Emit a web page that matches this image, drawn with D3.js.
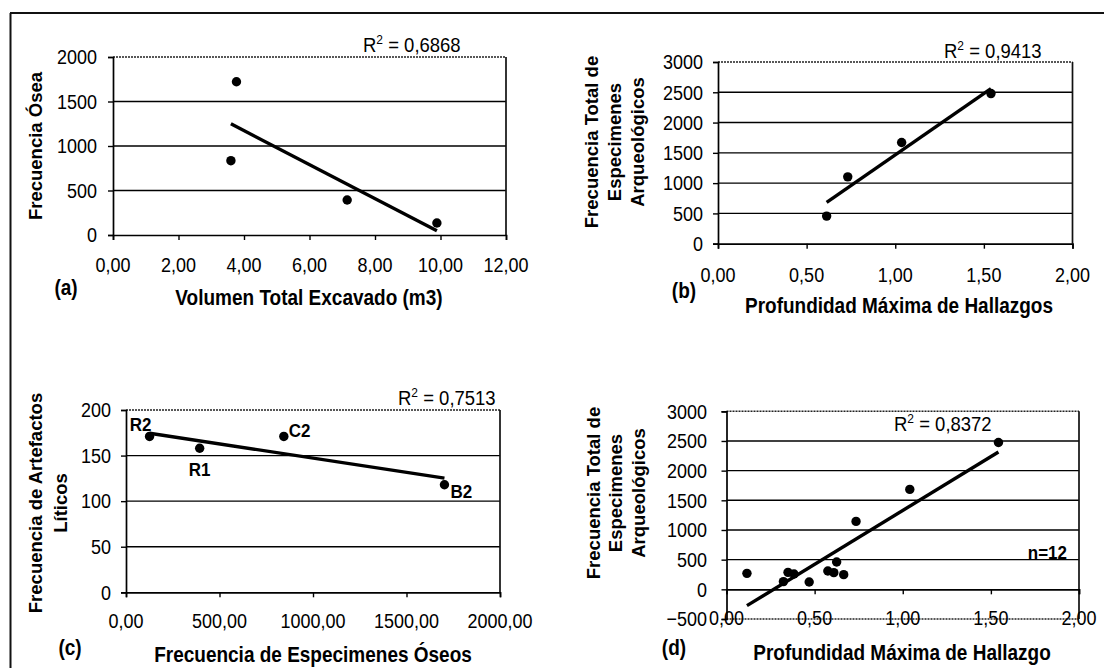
<!DOCTYPE html>
<html>
<head>
<meta charset="utf-8">
<script src="https://cdn.jsdelivr.net/npm/d3@7"></script>
<style>
  html, body { margin: 0; padding: 0; background: #fff; }
  svg { display: block; font-family: "Liberation Sans", Arial, sans-serif; }
</style>
</head>
<body>
<svg id="chart" width="1104" height="668"></svg>
<script>
// (a) Volumen total excavado vs frecuencia osea
const volumenA = [3.60, 3.77, 7.15, 9.89];
const oseaA = [835, 1722, 393, 135];
const xTicksA = [0, 2, 4, 6, 8, 10, 12];
const yTicksA = [0, 500, 1000, 1500, 2000];

// (b) Profundidad maxima vs total especimenes
const profB = [0.613, 0.732, 1.036, 1.540];
const totalB = [456, 1104, 1671, 2479];
const xTicksB = [0, 0.5, 1, 1.5, 2];
const yTicksB = [0, 500, 1000, 1500, 2000, 2500, 3000];

// (c) Especimenes oseos vs artefactos liticos
const sitiosC = ["R2", "R1", "C2", "B2"];
const oseosC = [126, 394, 844, 1703];
const liticosC = [171, 158, 171, 118];
const xTicksC = [0, 500, 1000, 1500, 2000];
const yTicksC = [0, 50, 100, 150, 200];

// (d) Profundidad maxima vs total especimenes, n=12
const profD = [0.116, 0.323, 0.349, 0.383, 0.469, 0.575, 0.609, 0.625, 0.665, 0.735, 1.040, 1.543];
const totalD = [269, 130, 286, 258, 123, 308, 281, 460, 247, 1145, 1684, 2475];
const xTicksD = [0, 0.5, 1, 1.5, 2];
const yTicksD = [-500, 0, 500, 1000, 1500, 2000, 2500, 3000];

const r2Values = ["0,6868", "0,9413", "0,7513", "0,8372"];

const svg = d3.select("#chart");
const FS = 18;      // tick labels
const TFS = 19;     // bold titles
const STRETCH = 1.12; // scanned text looks a bit taller than wide

// outer frame
svg.append("line").attr("x1", 10).attr("x2", 1104).attr("y1", 13).attr("y2", 13)
  .attr("stroke", "#111").attr("stroke-width", 2);
svg.append("line").attr("x1", 10.5).attr("x2", 10.5).attr("y1", 13).attr("y2", 668)
  .attr("stroke", "#111").attr("stroke-width", 2);

const fmtDec = v => d3.format(".2f")(v).replace(".", ",");
const fmtInt = v => d3.format("d")(v);

function fit(xs, ys) {
  const mx = d3.mean(xs), my = d3.mean(ys);
  let sxy = 0, sxx = 0;
  xs.forEach((x, i) => { sxy += (x - mx) * (ys[i] - my); sxx += (x - mx) * (x - mx); });
  const b = sxy / sxx;
  return x => my + b * (x - mx);
}

// horizontal text, centred vertically on y, slightly stretched
function label(g, x, y, txt, size, anchor, bold) {
  return g.append("text")
    .attr("transform", `translate(${x},${y}) scale(1,${STRETCH})`)
    .attr("dy", "0.36em")
    .attr("text-anchor", anchor)
    .attr("font-size", size)
    .attr("font-weight", bold ? "bold" : "normal")
    .text(txt);
}

function drawPanel(p) {
  const x = d3.scaleLinear().domain(p.xDomain).range([p.left, p.right]);
  const y = d3.scaleLinear().domain(p.yDomain).range([p.bottom, p.top]);
  const g = svg.append("g");
  const axisY = y(p.axisAt);

  // gridlines
  g.selectAll(".grid").data(p.yTicks.filter(t => t !== p.axisAt && t !== p.yDomain[0] && t !== p.yDomain[1]))
    .enter().append("line")
    .attr("x1", p.left).attr("x2", p.right)
    .attr("y1", d => y(d)).attr("y2", d => y(d))
    .attr("stroke", "#000").attr("stroke-width", 1.4);

  // plot border: top and bottom dotted, right solid
  g.append("line").attr("x1", p.left).attr("x2", p.right).attr("y1", p.top).attr("y2", p.top)
    .attr("stroke", "#222").attr("stroke-width", 1.4).attr("stroke-dasharray", "2,1");
  if (p.axisAt !== p.yDomain[0]) {
    g.append("line").attr("x1", p.left).attr("x2", p.right).attr("y1", p.bottom).attr("y2", p.bottom)
      .attr("stroke", "#222").attr("stroke-width", 1.4).attr("stroke-dasharray", "2,1");
  }
  g.append("line").attr("x1", p.right).attr("x2", p.right).attr("y1", p.top).attr("y2", p.bottom)
    .attr("stroke", "#111").attr("stroke-width", 1.7);

  // y axis with ticks
  const yAxis = d3.axisLeft(y).tickValues(p.yTicks).tickSize(5).tickFormat("");
  const ya = g.append("g").attr("transform", `translate(${p.left},0)`).call(yAxis);
  ya.select(".domain").attr("stroke", "#000").attr("stroke-width", 1.7);
  ya.selectAll(".tick line").attr("stroke", "#000").attr("stroke-width", 1.4);

  // x axis with ticks
  const xAxis = d3.axisBottom(x).tickValues(p.xTicks).tickSize(5).tickFormat("");
  const xa = g.append("g").attr("transform", `translate(0,${axisY})`).call(xAxis);
  xa.select(".domain").attr("stroke", "#000").attr("stroke-width", 1.7);
  xa.selectAll(".tick line").attr("stroke", "#000").attr("stroke-width", 1.4);

  // tick labels
  p.yTicks.forEach(t => label(g, p.yLabelRight, y(t), fmtInt(t), FS, "end", false));
  p.xTicks.forEach(t => label(g, x(t), p.xLabelY, fmtDec(t), FS, "middle", false));

  // trend line
  const f = fit(p.xs, p.ys);
  const x0 = d3.min(p.xs), x1 = d3.max(p.xs);
  g.append("line")
    .attr("x1", x(x0)).attr("y1", y(f(x0)))
    .attr("x2", x(x1)).attr("y2", y(f(x1)))
    .attr("stroke", "#000").attr("stroke-width", 3.4);

  // points
  g.selectAll(".pt").data(p.xs.map((v, i) => [v, p.ys[i]])).enter().append("circle")
    .attr("cx", d => x(d[0])).attr("cy", d => y(d[1])).attr("r", 4.7).attr("fill", "#000");

  // point labels
  if (p.labels) {
    p.labels.forEach((lab, i) => {
      const o = p.labelOffsets[i];
      label(g, x(p.xs[i]) + o[0], y(p.ys[i]) + o[1], lab, 17, o[2], true);
    });
  }

  // R squared
  const r2 = g.append("text")
    .attr("transform", `translate(${p.r2x},${p.r2y}) scale(1,${STRETCH})`)
    .attr("font-size", FS + 0.5);
  r2.append("tspan").text("R");
  r2.append("tspan").attr("dy", -7).attr("font-size", 12).text("2");
  r2.append("tspan").attr("dy", 7).text(" = " + p.r2);

  // y title (rotated, possibly multi-line)
  p.yTitle.forEach((line, i) => {
    g.append("text")
      .attr("transform", `translate(${p.yTitleX[i]},${p.yTitleY}) rotate(-90)`)
      .attr("dy", "0.36em").attr("text-anchor", "middle")
      .attr("font-size", FS + 0.5).attr("font-weight", "bold").text(line);
  });

  // x title
  label(g, p.xTitleX, p.xTitleY, p.xTitle, TFS, "middle", true);

  // panel letter
  label(g, p.letterX, p.letterY, p.letter, TFS, "middle", true);

  if (p.note) label(g, p.note.x, p.note.y, p.note.text, 17, "end", true);
}

drawPanel({
  xs: volumenA, ys: oseaA, xTicks: xTicksA, yTicks: yTicksA,
  xDomain: [0, 12], yDomain: [0, 2000], axisAt: 0,
  left: 113, right: 506, top: 57, bottom: 235,
  yLabelRight: 97, xLabelY: 265,
  r2: r2Values[0], r2x: 363, r2y: 51.5,
  yTitle: ["Frecuencia Ósea"], yTitleX: [35], yTitleY: 146,
  xTitle: "Volumen Total Excavado (m3)", xTitleX: 309, xTitleY: 297,
  letter: "(a)", letterX: 66, letterY: 287
});

drawPanel({
  xs: profB, ys: totalB, xTicks: xTicksB, yTicks: yTicksB,
  xDomain: [0, 2], yDomain: [0, 3000], axisAt: 0,
  left: 718, right: 1072.5, top: 62, bottom: 243.7,
  yLabelRight: 703, xLabelY: 275,
  r2: r2Values[1], r2x: 944, r2y: 58,
  yTitle: ["Frecuencia Total de", "Especimenes", "Arqueológicos"], yTitleX: [591, 614, 637], yTitleY: 142,
  xTitle: "Profundidad Máxima de Hallazgos", xTitleX: 899, xTitleY: 305,
  letter: "(b)", letterX: 684, letterY: 290
});

drawPanel({
  xs: oseosC, ys: liticosC, xTicks: xTicksC, yTicks: yTicksC,
  xDomain: [0, 2000], yDomain: [0, 200], axisAt: 0,
  left: 126, right: 500, top: 410, bottom: 592.3,
  yLabelRight: 111, xLabelY: 621,
  r2: r2Values[2], r2x: 398, r2y: 405,
  labels: sitiosC, labelOffsets: [[-9, -12, "middle"], [0, 21, "middle"], [5, -6, "start"], [6, 6, "start"]],
  yTitle: ["Frecuencia de Artefactos", "Líticos"], yTitleX: [35, 60], yTitleY: 503,
  xTitle: "Frecuencia de Especimenes Óseos", xTitleX: 313, xTitleY: 654,
  letter: "(c)", letterX: 70, letterY: 647
});

drawPanel({
  xs: profD, ys: totalD, xTicks: xTicksD, yTicks: yTicksD,
  xDomain: [0, 2], yDomain: [-500, 3000], axisAt: 0,
  left: 726.5, right: 1079, top: 411.3, bottom: 619,
  yLabelRight: 707, xLabelY: 618,
  r2: r2Values[3], r2x: 894, r2y: 431,
  note: { text: "n=12", x: 1067, y: 552 },
  yTitle: ["Frecuencia Total de", "Especimenes", "Arqueológicos"], yTitleX: [593, 615.5, 638], yTitleY: 493,
  xTitle: "Profundidad Máxima de Hallazgo", xTitleX: 902, xTitleY: 652,
  letter: "(d)", letterX: 674, letterY: 647
});
</script>
</body>
</html>
